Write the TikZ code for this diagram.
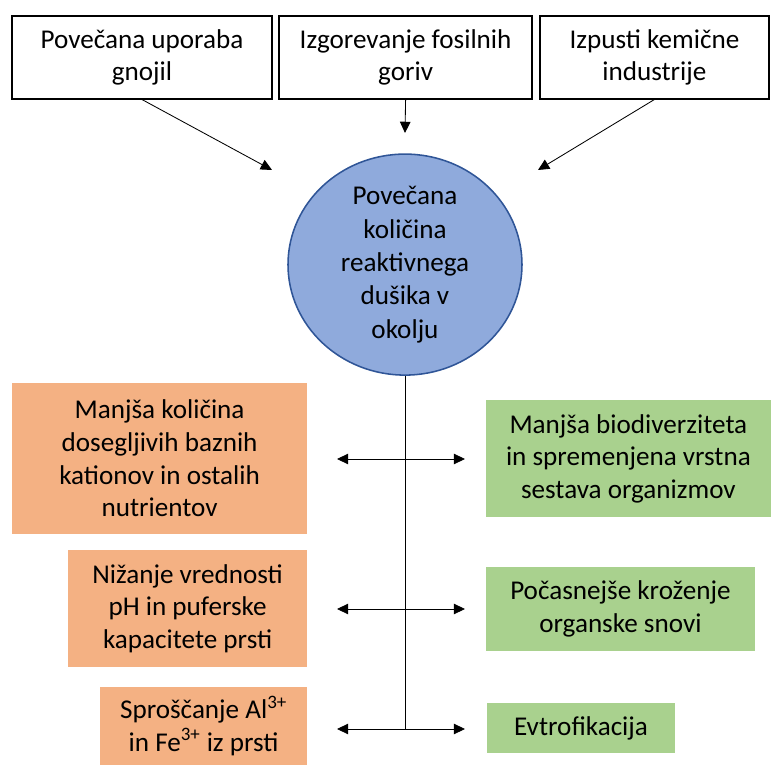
\documentclass[tikz,border=0pt]{standalone}
\usepackage{fontspec}
\setmainfont{Carlito}
\usetikzlibrary{shapes.geometric,arrows.meta}
\definecolor{soilorange}{RGB}{244,177,131}
\definecolor{lifegreen}{RGB}{169,209,142}
\definecolor{nitroblue}{RGB}{143,170,220}
\definecolor{nitroedge}{RGB}{47,85,151}

\begin{document}
\begin{tikzpicture}[
  font=\fontsize{19.3}{23.2}\selectfont,
  source/.style={draw, line width=0.9pt, align=center, minimum height=2.075cm},
  soilbox/.style={fill=soilorange, align=center},
  lifebox/.style={fill=lifegreen, align=center},
  onearrow/.style={-{Triangle[length=8pt,width=7.5pt]}, line width=0.6pt},
  twoarrow/.style={{Triangle[length=8pt,width=7.5pt]}-{Triangle[length=8pt,width=7.5pt]}, line width=0.6pt}
]
\useasboundingbox (0,0) rectangle (19.275,19.125);
\node (gnojila) at (3.55,17.69) [source, minimum width=6.5cm] {Povečana uporaba\\gnojil};
\node (goriva) at (10.14,17.69) [source, minimum width=6.325cm] {Izgorevanje fosilnih\\goriv};
\node (industrija) at (16.36,17.69) [source, minimum width=5.725cm] {Izpusti kemične\\industrije};
\node (dusik) at (10.125,12.51) [ellipse, draw=nitroedge, line width=1.1pt, fill=nitroblue, minimum width=5.85cm, minimum height=5.525cm, inner sep=0pt, align=center, font=\fontsize{19.3}{23.7}\selectfont] {Povečana\\količina\\reaktivnega\\dušika v\\okolju};
\coordinate (t1) at (6.8,14.875);
\coordinate (t2) at (10.125,15.8);
\coordinate (t3) at (13.45,14.875);
\draw[onearrow] (gnojila.south) -- (t1);
\draw[onearrow] (goriva.south) -- (t2);
\draw[onearrow] (industrija.south) -- (t3);
\node (kationi) at (3.99,7.66) [soilbox, minimum width=7.375cm, minimum height=3.775cm] {Manjša količina\\dosegljivih baznih\\kationov in ostalih\\nutrientov};
\node (ph) at (4.69,3.91) [soilbox, minimum width=5.975cm, minimum height=2.925cm] {Nižanje vrednosti\\pH in puferske\\kapacitete prsti};
\node (kovine) at (5.09,0.975) [soilbox, minimum width=5.175cm, minimum height=1.95cm] {Sproščanje Al\textsuperscript{3+}\\in Fe\textsuperscript{3+} iz prsti};
\node (biodiv) at (15.71,7.66) [lifebox, minimum width=7.125cm, minimum height=2.925cm] {Manjša biodiverziteta\\in spremenjena vrstna\\sestava organizmov};
\node (krozenje) at (15.51,3.9) [lifebox, minimum width=6.725cm, minimum height=2.1cm] {Počasnejše kroženje\\organske snovi};
\node (evtro) at (14.525,0.925) [lifebox, minimum width=4.7cm, minimum height=1.25cm] {Evtrofikacija};
\coordinate (l1) at (8.425,7.65);
\coordinate (r1) at (11.625,7.65);
\coordinate (l2) at (8.425,3.9);
\coordinate (r2) at (11.625,3.9);
\coordinate (l3) at (8.425,0.9);
\coordinate (r3) at (11.625,0.9);
\coordinate (k3) at (10.125,0.9);
\draw[line width=0.6pt] (dusik.south) -- (k3);
\draw[twoarrow] (l1) -- (r1);
\draw[twoarrow] (l2) -- (r2);
\draw[twoarrow] (l3) -- (r3);
\end{tikzpicture}
\end{document}
